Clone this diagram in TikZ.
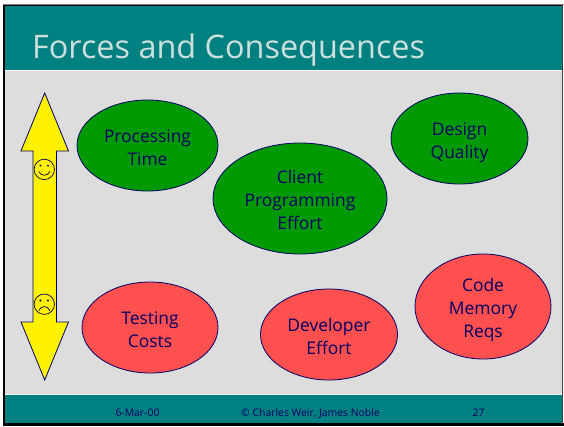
\documentclass[tikz,border=0pt]{standalone}
\usepackage{fontspec}
\setmainfont{Open Sans}
\usetikzlibrary{shapes.geometric}
\definecolor{teal1}{HTML}{008080}
\definecolor{panel}{HTML}{DDDDDD}
\definecolor{inkblue}{HTML}{000066}
\definecolor{good}{HTML}{009900}
\definecolor{bad}{HTML}{FF5050}
\definecolor{titlec}{HTML}{CCE0DD}
\tikzset{
  blob/.style={ellipse,draw=inkblue,line width=.8pt,inner sep=0pt,text=inkblue,align=center,text depth=0pt,text height=39pt,font=\fontsize{17.4}{22.6}\selectfont},
  goodblob/.style={blob,fill=good},
  badblob/.style={blob,fill=bad},
  threelines/.style={text height=61pt},
  foot/.style={text=inkblue,anchor=base,font=\fontsize{10.4}{12}\selectfont,inner sep=0pt},
  facepart/.style={draw=inkblue,line width=.7pt,line cap=round},
}
\begin{document}
\begin{tikzpicture}[x=1pt,y=-1pt]
\useasboundingbox (0,0) rectangle (564,426);
\fill[white] (0,0) rectangle (564,426);
% slide
\fill[panel] (4,5) rectangle (562,423);
\fill[teal1] (5,6) rectangle (562,70);
\fill[white] (5,70) rectangle (562,71);
\fill[white] (5,394) rectangle (562,395);
\fill[teal1] (5,395) rectangle (562,423);
\draw[black!50,line width=1pt] (3,4.5) -- (564,4.5);
\draw[black,line width=1.6pt] (4,5.6) -- (563,5.6);
\draw[black,line width=2.4pt] (4,5) -- (4,424.5) -- (564,424.5);
\draw[black!75,line width=1.2pt] (562.8,5) -- (562.8,424);
\node[anchor=base west,inner sep=0pt,text=titlec,font=\fontsize{32.4}{38}\selectfont] (title) at (32,58) {Forces and Consequences};
% arrow
\draw[fill=yellow,draw=inkblue,line width=.8pt,line join=miter]
  (44.7,93) -- (68.5,151) -- (56.5,151) -- (56.5,322) -- (68.5,322) -- (44.7,380)
  -- (21,322) -- (33,322) -- (33,151) -- (21,151) -- cycle;
% smile
\draw[facepart] (44.3,169.4) circle (10.2);
\fill[inkblue] (40.5,165.6) circle (1.1) (48,165.6) circle (1.1);
\draw[facepart] (38.8,171.5) .. controls (40.8,176.5) and (47.8,176.5) .. (49.8,171.5);
% frown
\draw[facepart] (44.3,304.2) circle (10.2);
\fill[inkblue] (40.5,300.5) circle (1.1) (48,300.5) circle (1.1);
\draw[facepart] (38.8,310.7) .. controls (40.8,305.2) and (47.8,305.2) .. (49.8,310.7);
% ellipses
\node[goodblob,minimum width=141pt,minimum height=91pt] (proc) at (147.5,145.5) {Processing\\Time};
\node[goodblob,threelines,minimum width=174pt,minimum height=111pt] (client) at (300,198.5) {Client\\Programming\\Effort};
\node[goodblob,minimum width=137pt,minimum height=91pt] (design) at (459.5,138.5) {Design\\Quality};
\node[badblob,minimum width=136pt,minimum height=91pt] (test) at (150,327.5) {Testing\\Costs};
\node[badblob,minimum width=137pt,minimum height=91pt] (dev) at (329,334.5) {Developer\\Effort};
\node[badblob,threelines,minimum width=136pt,minimum height=105pt] (code) at (483,306.5) {Code\\Memory\\Reqs};
% footer
\node[foot] (date) at (137.5,416) {6-Mar-00};
\node[foot] (copy) at (310.5,416) {© Charles Weir, James Noble};
\node[foot] (page) at (478.5,416) {27};
\end{tikzpicture}
\end{document}
